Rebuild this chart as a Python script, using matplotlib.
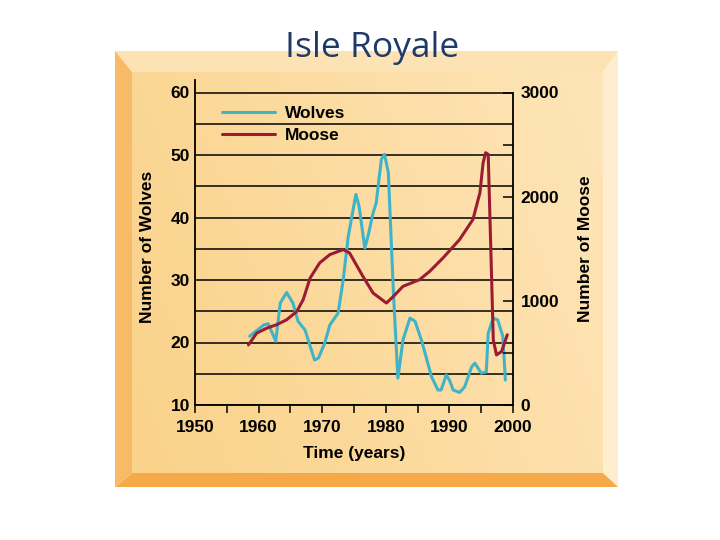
import matplotlib
matplotlib.use("Agg")
import matplotlib.pyplot as plt
from matplotlib.patches import Polygon
import numpy as np

# ---- data ----
wolf_years = [1958.6, 1960.8, 1961.5, 1962.7, 1963.4, 1964.4, 1965.4, 1966.2, 1967.3,
              1968.8, 1969.4, 1970.4, 1971.2, 1972.5, 1973.3, 1974.1, 1975.3, 1975.8,
              1976.7, 1977.2, 1978.0, 1978.5, 1979.3, 1979.8, 1980.4, 1981.2, 1981.9,
              1982.7, 1983.8, 1984.6, 1985.6, 1987.2, 1988.2, 1988.7, 1989.5, 1990.0,
              1990.6, 1991.6, 1992.4, 1993.5, 1994.0, 1995.0, 1995.8, 1996.1, 1996.9,
              1997.6, 1998.4, 1998.8]
wolves = [21.0, 22.8, 23.0, 20.2, 26.3, 28.0, 26.3, 23.4, 22.0,
          17.2, 17.5, 19.9, 22.8, 24.7, 30.0, 37.0, 43.7, 41.8,
          35.1, 37.0, 40.7, 42.4, 49.3, 50.1, 47.2, 27.9, 14.3,
          20.4, 23.9, 23.4, 20.4, 14.5, 12.4, 12.4, 14.8, 14.0,
          12.4, 12.0, 12.9, 16.1, 16.7, 15.1, 15.3, 21.5, 23.9,
          23.6, 21.0, 14.0]

moose_years = [1958.4, 1959.7, 1961.3, 1962.8, 1964.4, 1966.0, 1967.0, 1968.1, 1969.6,
               1971.2, 1973.3, 1974.3, 1976.4, 1978.0, 1980.1, 1981.2, 1982.7, 1985.3,
               1986.9, 1989.0, 1991.6, 1993.7, 1994.8, 1995.3, 1995.7, 1996.1, 1996.5,
               1996.9, 1997.4, 1998.2, 1999.1]
moose = [577, 690, 738, 770, 818, 898, 1010, 1219, 1364,
         1444, 1492, 1460, 1235, 1075, 979, 1043, 1139, 1203,
         1283, 1412, 1588, 1781, 2038, 2326, 2422, 2406, 1524,
         626, 481, 513, 674]

x_labels = ['1950', '1960', '1970', '1980', '1990', '2000']
wolf_ticks = [10, 20, 30, 40, 50, 60]
moose_ticks = [0, 1000, 2000, 3000]

fig = plt.figure(figsize=(7.2, 5.4), dpi=100)
fig.patch.set_facecolor('white')

# background frame drawn in pixel coords
bg = fig.add_axes([0, 0, 1, 1])
bg.set_xlim(0, 720)
bg.set_ylim(540, 0)
bg.axis('off')

ox0, oy0, ox1, oy1 = 115, 51, 618, 487
ix0, iy0, ix1, iy1 = 132, 72, 603, 473
bg.add_patch(Polygon([(ox0, oy0), (ox1, oy0), (ix1, iy0), (ix0, iy0)], color='#FDE2B4', lw=0))
bg.add_patch(Polygon([(ox1, oy0), (ox1, oy1), (ix1, iy1), (ix1, iy0)], color='#FEEDCF', lw=0))
bg.add_patch(Polygon([(ox0, oy1), (ox1, oy1), (ix1, iy1), (ix0, iy1)], color='#F6A948', lw=0))
bg.add_patch(Polygon([(ox0, oy0), (ix0, iy0), (ix0, iy1), (ox0, oy1)], color='#F7BB68', lw=0))

# panel shading: more orange on the left, lighter toward the top right
u = np.linspace(0, 1, 60)
U, V = np.meshgrid(u, u)
t = (0.75 * U + 0.25 * (1 - V))[..., None]
light = np.array([254, 229, 184]) / 255
dark = np.array([250, 210, 137]) / 255
grad = dark * (1 - t) + light * t
bg.imshow(grad, extent=(ix0, ix1, iy1, iy0), aspect='auto', interpolation='bilinear', zorder=1)

fig.text(372 / 720, 1 - 57 / 540, 'Isle Royale', family='Open Sans', fontsize=25.5,
         color='#1F3A68', ha='center', va='baseline')

# chart
ax = fig.add_axes([195 / 720, 0.25, 318 / 720, 325 / 540])
ax.set_facecolor('none')
ax.set_xlim(1950, 2000)
ax.set_ylim(10, 62)

bold = dict(family='Liberation Sans', fontweight='bold', fontsize=12.5)

lw_w, = ax.plot(wolf_years, wolves, color='#3FB4C8', lw=2.2, solid_capstyle='round', zorder=4, label='Wolves')

ax2 = ax.twinx()
ax2.set_ylim(0, 3120)
lm, = ax2.plot(moose_years, moose, color='#9A1C33', lw=2.2, solid_capstyle='round', zorder=4, label='Moose')

# gridlines
ax.set_yticks(wolf_ticks)
ax.set_yticks([15, 25, 35, 45, 55], minor=True)
ax.grid(True, axis='y', which='both', color='black', lw=1.1)
ax.set_axisbelow(True)
ax.tick_params(axis='y', which='both', length=0, pad=3.6)
ax.set_yticklabels([str(v) for v in wolf_ticks], **bold)

ax.set_xticks([1950, 1960, 1970, 1980, 1990, 2000])
ax.set_xticks([1955, 1965, 1975, 1985, 1995], minor=True)
ax.set_xticklabels(x_labels, **bold)
ax.tick_params(axis='x', which='both', length=6, width=1.1, direction='out', pad=5, color='black')

ax2.set_yticks(moose_ticks)
ax2.set_yticks([500, 1500, 2500], minor=True)
ax2.set_yticklabels([str(v) for v in moose_ticks], **bold)
ax2.tick_params(axis='y', which='both', length=7, width=1.1, direction='in', pad=5.5)

for a in (ax, ax2):
    a.spines['top'].set_visible(False)
    for s in a.spines.values():
        s.set_linewidth(1.3)
ax.spines['right'].set_visible(False)
ax2.spines['left'].set_visible(False)
ax2.spines['bottom'].set_visible(False)
ax2.spines['right'].set_bounds(0, 3000)

ax.set_ylabel('Number of Wolves', **bold)
ax.yaxis.set_label_coords(-0.126, 0.486)
ax2.set_ylabel('Number of Moose', **bold)
ax2.yaxis.set_label_coords(1.203, 0.48)
ax.set_xlabel('Time (years)', **bold)
ax.xaxis.set_label_coords(0.5, -0.125)

leg = ax2.legend(handles=[lw_w, lm], loc='upper left', bbox_to_anchor=(222 / 720, 1 - 106 / 540),
                 bbox_transform=fig.transFigure, frameon=False, borderpad=0, borderaxespad=0,
                 handlelength=3.05, handletextpad=0.55, labelspacing=0.38,
                 prop=dict(family='Liberation Sans', weight='bold', size=12.5))

fig.savefig('out.png', dpi=100)
